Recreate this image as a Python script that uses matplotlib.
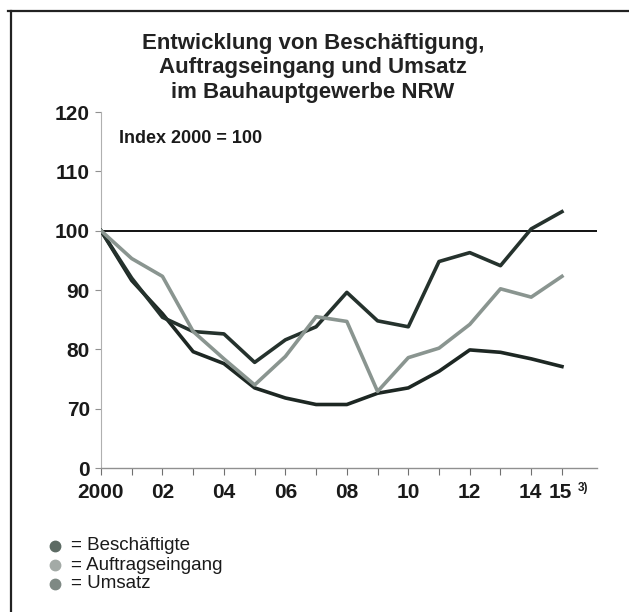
import matplotlib
matplotlib.use("Agg")
import matplotlib.pyplot as plt
from matplotlib.lines import Line2D

plt.rcParams['font.family'] = ['Liberation Sans', 'DejaVu Sans']

years = list(range(2000, 2016))
beschaeftigte = [100, 91.6, 86.0, 79.6, 77.6, 73.5, 71.8, 70.7, 70.7, 72.6, 73.5, 76.3, 79.9, 79.5, 78.4, 77.1]
auftragseingang = [100, 95.3, 92.3, 83.0, 78.4, 74.0, 78.8, 85.5, 84.7, 72.9, 78.6, 80.2, 84.2, 90.2, 88.8, 92.3]
umsatz = [100, 92.0, 85.4, 83.0, 82.6, 77.8, 81.6, 83.8, 89.6, 84.8, 83.8, 94.8, 96.3, 94.1, 100.3, 103.2]

ytick_vals = [60, 70, 80, 90, 100, 110, 120]
ytick_labels = ["0", "70", "80", "90", "100", "110", "120"]
xtick_vals = [2000, 2002, 2004, 2006, 2008, 2010, 2012, 2014, 2015]
xtick_labels = ["2000", "02", "04", "06", "08", "10", "12", "14", "15"]

title = "Entwicklung von Beschäftigung,\nAuftragseingang und Umsatz\nim Bauhauptgewerbe NRW"
legend_labels = ["= Beschäftigte", "= Auftragseingang", "= Umsatz"]
legend_colors = ["#5d6b64", "#a3aaa6", "#7e8984"]

W, H = 629, 612
fig = plt.figure(figsize=(W / 100, H / 100), dpi=100)
fig.patch.set_facecolor("white")

left, right = 101, 597
top, bottom = 112, 468
ax = fig.add_axes([left / W, 1 - bottom / H, (right - left) / W, (bottom - top) / H])
ax.set_xlim(2000, 2000 + (right - left) / 30.73)
ax.set_ylim(60, 120)

ax.axhline(100, color="#111111", lw=1.4, zorder=1)

ax.plot(years, beschaeftigte, color="#1d2723", lw=2.6, zorder=3, solid_joinstyle="round")
ax.plot(years, umsatz, color="#25322d", lw=2.6, zorder=3, solid_joinstyle="round")
ax.plot(years, auftragseingang, color="#8a9590", lw=2.6, zorder=4, solid_joinstyle="round")

for s in ["top", "right"]:
    ax.spines[s].set_visible(False)
ax.spines["left"].set_color("#b0b0b0")
ax.spines["bottom"].set_color("#909090")
ax.spines["left"].set_linewidth(0.8)
ax.spines["bottom"].set_linewidth(1.0)

ax.set_yticks(ytick_vals)
ax.set_yticklabels(ytick_labels, fontsize=15, fontweight="bold", color="#1a1a1a")
ax.set_xticks(years)
ax.set_xticklabels(["" for _ in years])
ax.tick_params(axis="y", direction="out", length=4, color="#909090", pad=4)
ax.tick_params(axis="x", direction="out", length=5, color="#707070", pad=10)

for xv, lab in zip(xtick_vals, xtick_labels):
    dx = 0
    if lab == "14":
        dx = -0.02
    if lab == "15":
        dx = -0.05
    ax.text(xv + dx, 55.8, lab, ha="center", va="center", fontsize=15,
            fontweight="bold", color="#1a1a1a")
ax.text(2015.5, 56.6, "3)", ha="left", va="center", fontsize=8.5,
        fontweight="bold", color="#1a1a1a")

ax.text(2000.6, 115.5, "Index 2000 = 100", ha="left", va="center", fontsize=13,
        fontweight="bold", color="#1a1a1a")

fig.text(313 / W, 1 - 68 / H, title, ha="center", va="center", fontsize=16,
         fontweight="bold", color="#222222", linespacing=1.2)

for i, (lab, col) in enumerate(zip(legend_labels, legend_colors)):
    y = 1 - (546 + i * 19) / H
    fig.add_artist(Line2D([55 / W], [y], marker="o", markersize=7.5,
                          markerfacecolor=col, markeredgecolor=col, lw=0))
    fig.text(71 / W, y, lab, ha="left", va="center", fontsize=13.5, color="#1a1a1a")

# frame lines of the scanned box
fig.add_artist(Line2D([8 / W, 1.0], [1 - 11 / H, 1 - 11 / H], color="#222222", lw=1.6))
fig.add_artist(Line2D([11 / W, 11 / W], [0, 1 - 11 / H], color="#222222", lw=1.6))

fig.savefig("out.png", dpi=100, facecolor="white")
